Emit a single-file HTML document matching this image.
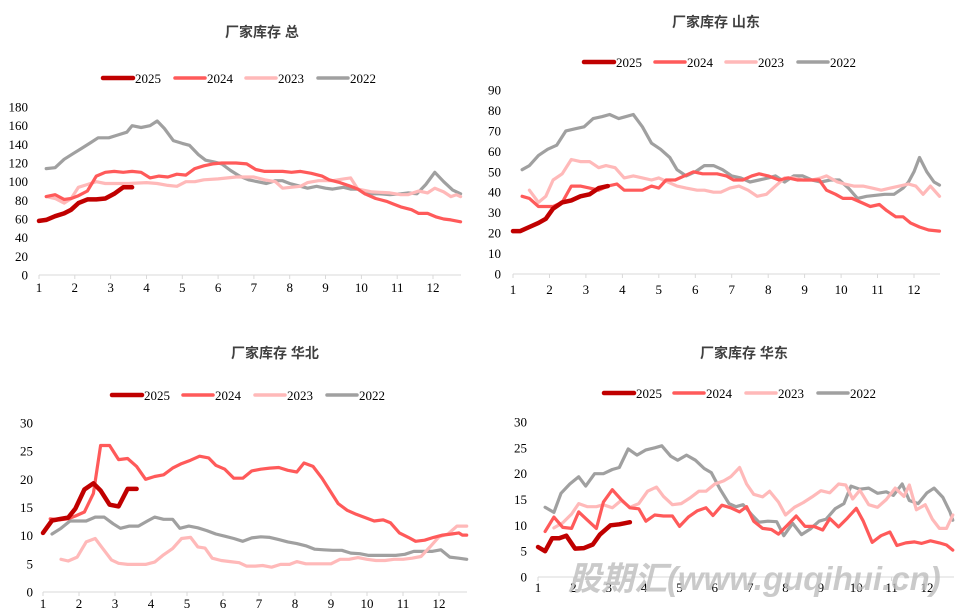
<!DOCTYPE html>
<html><head><meta charset="utf-8">
<style>
html,body{margin:0;padding:0;background:#fff;width:968px;height:608px;overflow:hidden}
svg{display:block}
.t{font-family:"Liberation Sans","Noto Sans CJK SC",sans-serif;font-weight:bold;font-size:14px;fill:#404040}
.l{font-family:"Liberation Serif","Noto Serif CJK SC",serif;font-size:13px;fill:#000}
</style></head><body>
<svg id="s" width="968" height="608" xmlns="http://www.w3.org/2000/svg"></svg>
<script>
var C=['#c00000','#ff5a5a','#ffb9b9','#a0a0a0'],W=[4.5,3.2,3.2,3.2],N=['2025','2024','2023','2022'];
var charts=[
{title:'厂家库存 总',tx:262,ty:37,x1:39,x12:433,xe:461,y0:275,yT:107,max:180,step:20,yl:28,ly:78,lx:[103,175,246,318],xl:292,
d:[
[[1,58],[1.2,59],[1.45,63],[1.7,66],[1.9,70],[2.1,77],[2.35,81],[2.6,81],[2.85,82],[3.1,87],[3.35,94],[3.6,94]],
[[1.2,84],[1.45,86],[1.7,81],[1.9,82],[2.1,85],[2.35,90],[2.6,106],[2.85,110],[3.1,111],[3.35,110],[3.6,111],[3.85,110],[4.1,104],[4.35,106],[4.6,105],[4.85,108],[5.1,107],[5.35,114],[5.6,117],[5.85,119],[6.1,120],[6.5,120],[6.8,119],[7.05,113],[7.3,111],[7.8,111],[8.05,110],[8.3,111],[8.6,109],[8.9,106],[9.1,102],[9.4,99],[9.7,95],[9.9,92],[10.1,87],[10.4,82],[10.7,79],[10.9,76],[11.1,73],[11.4,70],[11.6,66],[11.85,66],[12.1,62],[12.3,60],[12.5,59],[12.77,57]],
[[1.2,84],[1.45,82],[1.7,77],[1.9,82],[2.1,94],[2.35,97],[2.6,100],[2.85,98],[3.5,98],[4,99],[4.3,98],[4.6,96],[4.85,95],[5.1,100],[5.35,100],[5.6,102],[6,103],[6.5,105],[7,105],[7.3,102],[7.6,100],[7.8,93],[8.3,95],[8.5,99],[8.8,101],[9.2,101],[9.5,103],[9.7,104],[9.9,92],[10.3,89],[10.8,88],[11.1,86],[11.3,86],[11.6,90],[11.85,88],[12.05,93],[12.3,89],[12.5,84],[12.65,86],[12.77,84]],
[[1.2,114],[1.45,115],[1.7,124],[1.95,130],[2.2,136],[2.45,142],[2.65,147],[2.95,147],[3.2,150],[3.45,153],[3.6,160],[3.85,158],[4.1,160],[4.3,165],[4.5,157],[4.75,144],[5,141],[5.2,139],[5.45,129],[5.65,123],[5.9,121],[6.1,119],[6.35,112],[6.6,106],[6.85,102],[7.1,100],[7.35,98],[7.6,101],[7.8,101],[8,98],[8.3,95],[8.5,93],[8.75,95],[9,93],[9.2,92],[9.5,94],[9.7,92],[9.9,92],[10.1,87],[10.5,87],[10.8,86],[11.1,87],[11.3,88],[11.55,87],[11.8,97],[12.05,110],[12.3,100],[12.55,91],[12.77,87]]
]},
{title:'厂家库存 山东',tx:716,ty:27,x1:513,x12:914,xe:940,y0:274,yT:90,max:90,step:10,yl:501,ly:62,lx:[584,655,726,798],xl:294,
d:[
[[1,21],[1.2,21],[1.45,23],[1.7,25],[1.9,27],[2.1,32],[2.35,35],[2.6,36],[2.85,38],[3.1,39],[3.35,42],[3.6,43]],
[[1.25,38],[1.45,37],[1.7,33],[2.1,33],[2.35,35],[2.6,43],[2.85,43],[3.1,42],[3.35,41],[3.6,43],[3.85,44],[4.05,41],[4.3,41],[4.55,41],[4.8,43],[5,42],[5.2,46],[5.45,46],[5.7,48],[5.95,50],[6.2,49],[6.6,49],[6.85,48],[7.05,46],[7.3,46],[7.55,48],[7.75,49],[8,48],[8.3,46],[8.55,47],[8.8,46],[9.1,46],[9.4,46],[9.6,41],[9.85,39],[10.05,37],[10.3,37],[10.55,35],[10.8,33],[11.05,34],[11.25,31],[11.5,28],[11.7,28],[11.9,25],[12.15,23],[12.4,21.5],[12.7,21]],
[[1.45,41],[1.7,35],[1.9,38],[2.1,46],[2.35,49],[2.6,56],[2.85,55],[3.1,55],[3.35,52],[3.55,53],[3.8,52],[4.05,47],[4.3,48],[4.55,47],[4.8,46],[5,47],[5.25,45],[5.5,43],[5.75,42],[6.05,41],[6.25,41],[6.5,40],[6.7,40],[6.95,42],[7.2,43],[7.45,41],[7.7,38],[7.95,39],[8.2,43],[8.45,47],[8.7,47],[8.95,46],[9.2,46],[9.45,47],[9.6,48],[9.9,45],[10.1,44],[10.35,43],[10.6,43],[10.85,42],[11.1,41],[11.35,42],[11.6,43],[11.85,44],[12.05,43],[12.25,39],[12.45,43],[12.7,38]],
[[1.25,51],[1.45,53],[1.7,58],[1.95,61],[2.2,63],[2.45,70],[2.7,71],[2.95,72],[3.2,76],[3.45,77],[3.65,78],[3.9,76],[4.1,77],[4.3,78],[4.55,72],[4.8,64],[5.05,61],[5.3,57],[5.5,51],[5.75,48],[6,50],[6.25,53],[6.5,53],[6.75,51],[7,48],[7.25,47],[7.5,45],[7.75,46],[8,47],[8.2,48],[8.45,45],[8.7,48],[8.95,48],[9.2,46],[9.45,45],[9.7,46],[9.95,46],[10.2,42],[10.45,37],[10.7,38],[10.95,38.5],[11.2,39],[11.45,39],[11.7,42],[11.85,45],[12,50],[12.15,57],[12.35,50],[12.55,45],[12.7,43.5]]
]},
{title:'厂家库存 华北',tx:275,ty:358,x1:43,x12:439,xe:467,y0:592,yT:423,max:30,step:5,yl:33,ly:395,lx:[112,183,255,327],xl:608,
d:[
[[1,10.5],[1.25,12.7],[1.5,13],[1.7,13.2],[1.9,14.8],[2.15,18.2],[2.4,19.3],[2.6,18],[2.85,15.5],[3.1,15.2],[3.35,18.3],[3.6,18.3]],
[[1.2,13],[1.45,12.8],[1.7,13],[1.9,13.5],[2.15,14.2],[2.4,17.5],[2.6,26],[2.85,26],[3.1,23.5],[3.35,23.7],[3.6,22.3],[3.85,20],[4.1,20.5],[4.35,20.8],[4.6,22],[4.85,22.8],[5.1,23.4],[5.35,24.1],[5.6,23.8],[5.8,22.5],[6.05,21.8],[6.3,20.2],[6.55,20.2],[6.8,21.5],[7.05,21.8],[7.3,22],[7.55,22.1],[7.8,21.6],[8.05,21.3],[8.25,22.9],[8.5,22.3],[8.75,20.2],[8.95,18.2],[9.2,15.7],[9.45,14.5],[9.7,13.8],[9.95,13.2],[10.2,12.6],[10.45,12.8],[10.65,12.3],[10.9,10.5],[11.15,9.7],[11.35,9],[11.6,9.2],[11.85,9.7],[12.1,10.1],[12.35,10.3],[12.55,10.5],[12.65,10.1],[12.77,10.1]],
[[1.5,5.8],[1.7,5.5],[1.95,6.2],[2.2,8.9],[2.45,9.5],[2.65,7.8],[2.9,5.7],[3.1,5.1],[3.35,4.9],[3.6,4.9],[3.85,4.9],[4.1,5.3],[4.35,6.6],[4.6,7.7],[4.85,9.5],[5.1,9.7],[5.3,8],[5.5,7.8],[5.7,6],[5.95,5.6],[6.2,5.4],[6.45,5.2],[6.65,4.6],[6.9,4.6],[7.1,4.7],[7.35,4.4],[7.6,4.9],[7.85,4.9],[8.05,5.4],[8.3,5],[8.55,5],[8.8,5],[9,5],[9.25,5.8],[9.5,5.8],[9.75,6.1],[10,5.8],[10.25,5.6],[10.5,5.6],[10.75,5.8],[11,5.8],[11.25,6],[11.5,6.3],[11.75,8],[12,9.8],[12.25,10.3],[12.5,11.7],[12.77,11.7]],
[[1.25,10.3],[1.5,11.3],[1.75,12.6],[2.0,12.6],[2.2,12.6],[2.45,13.3],[2.7,13.3],[2.95,12.1],[3.15,11.3],[3.4,11.7],[3.65,11.7],[3.9,12.6],[4.1,13.3],[4.35,12.9],[4.6,12.9],[4.8,11.3],[5.05,11.7],[5.3,11.4],[5.55,10.9],[5.8,10.3],[6.05,9.9],[6.3,9.5],[6.55,9],[6.8,9.6],[7.05,9.8],[7.3,9.7],[7.55,9.3],[7.8,8.9],[8.05,8.6],[8.3,8.2],[8.55,7.6],[8.8,7.5],[9.05,7.4],[9.3,7.4],[9.55,6.9],[9.8,6.8],[10.05,6.5],[10.3,6.5],[10.55,6.5],[10.8,6.5],[11.05,6.7],[11.3,7.2],[11.55,7.2],[11.8,7.2],[12.05,7.5],[12.3,6.2],[12.55,6],[12.77,5.8]]
]},
{title:'厂家库存 华东',tx:744,ty:358,x1:538,x12:927,xe:954,y0:577,yT:422,max:30,step:5,yl:527,ly:393,lx:[604,674,746,818],xl:592,
d:[
[[1,5.8],[1.2,5],[1.4,7.5],[1.6,7.5],[1.8,8],[2.05,5.5],[2.3,5.6],[2.55,6.3],[2.75,8.2],[3.05,10],[3.3,10.2],[3.6,10.6]],
[[1.2,8.8],[1.45,11.6],[1.7,9.6],[1.95,9.4],[2.15,12.6],[2.4,11],[2.65,9.4],[2.85,14.5],[3.1,16.9],[3.35,15],[3.6,13.4],[3.85,13.2],[4.05,10.8],[4.3,12],[4.55,11.8],[4.8,11.8],[5,9.8],[5.25,11.6],[5.5,12.8],[5.75,13.4],[5.95,11.9],[6.2,13.9],[6.45,13.4],[6.7,12.6],[6.9,13.6],[7.1,10.8],[7.35,9.4],[7.6,9.2],[7.8,8.3],[8.05,10],[8.3,11.8],[8.55,9.8],[8.8,9.8],[9.05,9.1],[9.25,11.3],[9.5,9.7],[9.75,11.4],[10,13.3],[10.2,10.8],[10.45,6.7],[10.7,8],[10.95,8.7],[11.15,6.1],[11.4,6.6],[11.65,6.8],[11.85,6.5],[12.1,7],[12.35,6.6],[12.55,6.2],[12.73,5.2]],
[[1.45,9.5],[1.7,10.5],[1.95,12.2],[2.15,14.2],[2.4,13.6],[2.65,13.6],[2.85,14],[3.1,13.4],[3.35,14.8],[3.6,13.5],[3.85,14.2],[4.1,16.6],[4.35,17.4],[4.55,15.6],[4.8,14],[5.05,14.2],[5.3,15.3],[5.55,16.6],[5.75,16.6],[6,18],[6.25,18.6],[6.45,19.4],[6.7,21.2],[6.9,18],[7.1,16],[7.35,15.5],[7.55,16.6],[7.8,14.5],[8,12],[8.25,13.5],[8.5,14.4],[8.75,15.5],[9.0,16.7],[9.25,16.3],[9.5,18],[9.7,17.8],[9.9,15.1],[10.1,16.8],[10.35,14],[10.6,13.5],[10.85,15],[11.1,17.2],[11.35,15.6],[11.5,17.8],[11.7,13],[11.95,14],[12.15,11.2],[12.35,9.4],[12.55,9.4],[12.73,12]],
[[1.2,13.5],[1.45,12.5],[1.65,16.2],[1.9,18],[2.15,19.4],[2.35,17.6],[2.6,20],[2.85,20],[3.1,20.8],[3.3,21.2],[3.55,24.8],[3.8,23.6],[4.05,24.6],[4.3,25],[4.5,25.4],[4.75,23.4],[4.95,22.6],[5.2,23.6],[5.45,22.6],[5.7,21],[5.9,20.2],[6.15,17],[6.4,14.2],[6.6,13.6],[6.8,14],[7.05,12],[7.25,10.6],[7.5,10.8],[7.75,10.7],[7.95,8],[8.2,10.4],[8.45,8.2],[8.7,9.3],[8.95,10.8],[9.15,11.2],[9.4,13.2],[9.65,14.2],[9.85,17.6],[10.1,17],[10.35,17.2],[10.6,16.2],[10.85,16.5],[11.05,15.8],[11.3,18],[11.5,14.8],[11.75,14.2],[12,16.3],[12.2,17.2],[12.45,15.4],[12.65,12.6],[12.73,11]]
]}
];
var h='';
charts.forEach(function(c){
 var sx=(c.x12-c.x1)/11, sy=(c.y0-c.yT)/c.max;
 function X(m){return (c.x1+(m-1)*sx).toFixed(1)} function Y(v){return (c.y0-v*sy).toFixed(1)}
 h+='<text class="t" x="'+c.tx+'" y="'+c.ty+'" text-anchor="middle">'+c.title+'</text>';
 for(var v=0;v<=c.max;v+=c.step) h+='<text class="l" x="'+c.yl+'" y="'+(+Y(v)+4.5)+'" text-anchor="end">'+v+'</text>';
 h+='<line x1="'+c.x1+'" y1="'+c.y0+'" x2="'+c.xe+'" y2="'+c.y0+'" stroke="#d9d9d9" stroke-width="1"/>';
 for(var m=1;m<=12;m++){h+='<line x1="'+X(m)+'" y1="'+c.y0+'" x2="'+X(m)+'" y2="'+(c.y0+4)+'" stroke="#d9d9d9"/>';
  h+='<text class="l" x="'+X(m)+'" y="'+c.xl+'" text-anchor="middle">'+m+'</text>';}
 for(var i=3;i>=0;i--){h+='<polyline fill="none" stroke="'+C[i]+'" stroke-width="'+W[i]+'" stroke-linejoin="round" stroke-linecap="round" points="'+c.d[i].map(function(p){return X(p[0])+','+Y(p[1])}).join(' ')+'"/>';}
 for(var i=0;i<4;i++){h+='<line x1="'+c.lx[i]+'" y1="'+c.ly+'" x2="'+(c.lx[i]+30)+'" y2="'+c.ly+'" stroke="'+C[i]+'" stroke-width="'+(i==0?4.5:3.5)+'" stroke-linecap="round"/>';
  h+='<text class="l" x="'+(c.lx[i]+32)+'" y="'+(c.ly+5)+'">'+N[i]+'</text>';}
});
h+='<text x="568" y="590" style="font-family:\'Liberation Sans\',\'Noto Sans CJK SC\',sans-serif;font-weight:bold;font-style:italic;font-size:33px;fill:#bdbdbd;fill-opacity:0.8">股期汇(www.guqihui.cn)</text>';
document.getElementById('s').innerHTML=h;
</script>
</body></html>
